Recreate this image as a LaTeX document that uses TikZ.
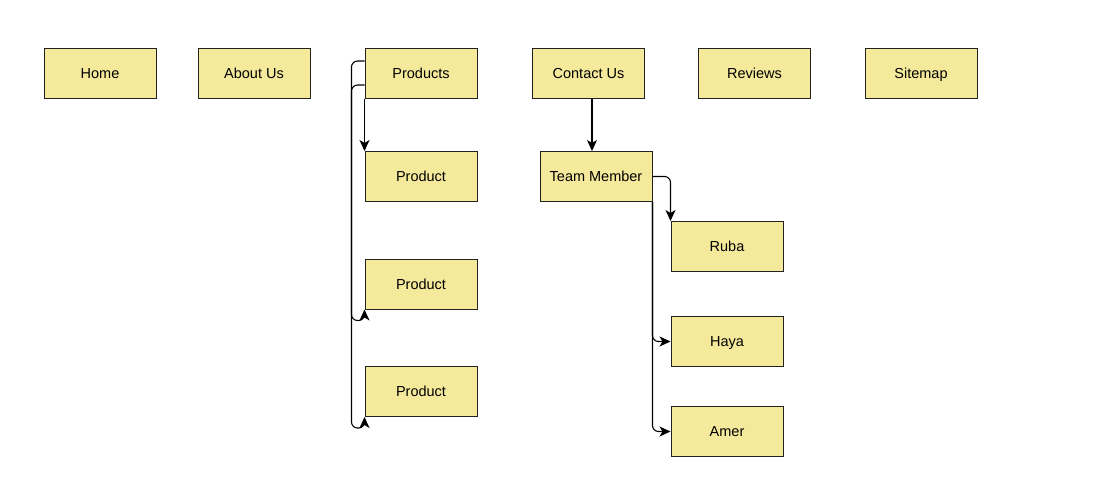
\documentclass[tikz,border=0pt]{standalone}
\usepackage{fontspec}
\setmainfont{Liberation Sans}
\usetikzlibrary{arrows.meta}
\definecolor{boxfill}{HTML}{F5EA9B}
\definecolor{boxline}{HTML}{222222}
\begin{document}
\begin{tikzpicture}[x=1pt,y=-1pt,
  box/.style={draw=boxline,fill=boxfill,line width=1pt,minimum width=112pt,minimum height=50pt,inner sep=0pt,text height=10.4pt,text depth=0pt,font=\fontsize{14.5}{17}\selectfont},
  conn/.style={line width=1.1pt,rounded corners=6pt,-{Stealth[length=11pt,width=10pt,inset=3pt]}}]
\useasboundingbox (0,0) rectangle (1113,490);
\node[box] (home) at (100,73) {Home};
\node[box] (about) at (254,73) {About Us};
\node[box] (products) at (421,73) {Products};
\node[box] (contact) at (588.5,73) {Contact Us};
\node[box] (reviews) at (754.5,73) {Reviews};
\node[box] (sitemap) at (921,73) {Sitemap};
\node[box] (p1) at (421,176.5) {Product};
\node[box] (p2) at (421,284) {Product};
\node[box] (p3) at (421,391.5) {Product};
\node[box] (team) at (596,176.5) {Team Member};
\node[box] (ruba) at (727,246.5) {Ruba};
\node[box] (haya) at (727,341.5) {Haya};
\node[box] (amer) at (727,431.5) {Amer};
% Products edges
\draw[conn] (products.south west) -- (p1.north west);
\draw[conn] ([yshift=-12pt]products.west) -- ++(-13,0)
  -- ([xshift=-13pt,yshift=-11pt]p2.south west) -- ([yshift=-11pt]p2.south west) -- (p2.south west);
\draw[conn] ([yshift=12pt]products.west) -- ++(-13,0)
  -- ([xshift=-13pt,yshift=-11pt]p3.south west) -- ([yshift=-11pt]p3.south west) -- (p3.south west);
% Contact edges
\draw[conn] ([xshift=3.5pt]contact.south) -- ([xshift=-4pt]team.north);
\draw[conn] (team.east) -| (ruba.north west);
\draw[conn] (team.south east) |- (haya.west);
\draw[conn] (team.south east) |- (amer.west);
\end{tikzpicture}
\end{document}
